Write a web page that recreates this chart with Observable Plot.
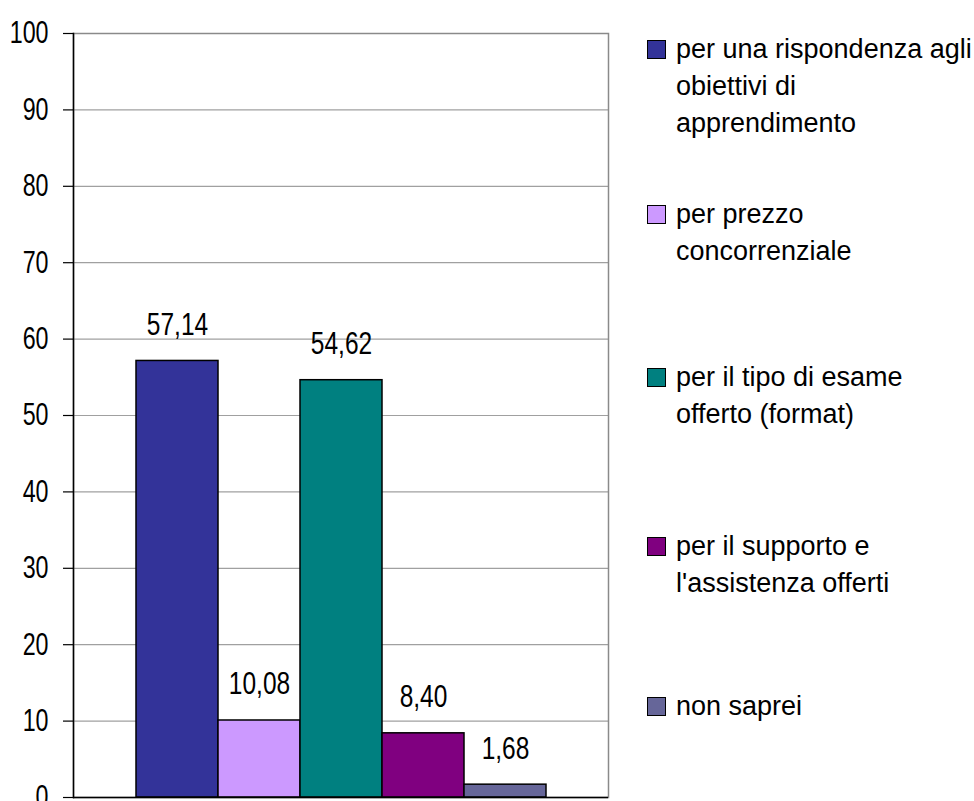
<!DOCTYPE html>
<html>
<head>
<meta charset="utf-8">
<script src="https://cdn.jsdelivr.net/npm/d3@7"></script>
<script src="https://cdn.jsdelivr.net/npm/@observablehq/plot@0.6"></script>
<style>
  html, body { margin: 0; padding: 0; background: #fff; }
  #wrap { position: relative; width: 974px; height: 801px; overflow: hidden; font-family: "Liberation Sans", Arial, sans-serif; }
  #legend { position: absolute; left: 647px; top: 0; width: 327px; }
  .item { position: absolute; left: 0; display: flex; align-items: flex-start; }
  .sw { width: 17px; height: 17px; border: 1.5px solid #000; margin-top: 9px; margin-right: 10px; flex: none; }
  .lb { font-size: 27px; line-height: 37px; white-space: pre-line; color: #000; }
</style>
</head>
<body>
<div id="wrap"></div>
<script>
const series = [
  "per una rispondenza agli\nobiettivi di\napprendimento",
  "per prezzo\nconcorrenziale",
  "per il tipo di esame\nofferto (format)",
  "per il supporto e\nl'assistenza offerti",
  "non saprei"
];
const values = [57.14, 10.08, 54.62, 8.40, 1.68];
const valueLabels = ["57,14", "10,08", "54,62", "8,40", "1,68"];
const colors = ["#333399", "#CC99FF", "#008080", "#800080", "#666699"];
const yTicks = [0, 10, 20, 30, 40, 50, 60, 70, 80, 90, 100];
const legendTops = [31, 196, 359, 528, 688];

const data = series.map((s, i) => ({ s, v: values[i], label: valueLabels[i] }));

const font = '"Liberation Sans", Arial, sans-serif';

const chart = Plot.plot({
  width: 974,
  height: 801,
  marginLeft: 73,
  marginRight: 366,
  marginTop: 33,
  marginBottom: 4,
  style: { fontFamily: font, fontSize: "31px", color: "#000", background: "#fff", overflow: "visible" },
  x: { domain: series, paddingInner: 0, paddingOuter: 0.73, axis: null },
  y: { domain: [0, 100], ticks: yTicks, label: null },
  color: { domain: series, range: colors },
  marks: [
    Plot.ruleY(yTicks.filter(d => d > 0), { stroke: "#a0a0a0", strokeWidth: 1.2 }),
    Plot.frame({ stroke: "#8a8a8a", strokeWidth: 1.5 }),
    Plot.barY(data, { x: "s", y: "v", fill: "s", stroke: "#000", strokeWidth: 1.5 }),
    Plot.text(data, { x: "s", y: "v", text: "label", dy: -36, fontSize: 31, fill: "#000", lineAnchor: "middle", className: "vlab" }),
    Plot.frame({ anchor: "left", stroke: "#000", strokeWidth: 1.5 }),
    Plot.ruleY([0], { stroke: "#000", strokeWidth: 1.5 }),
    Plot.axisY({ ticks: yTicks, tickSize: 10, tickPadding: 15, tickFormat: d => String(d), fontSize: 31, stroke: "#000", strokeWidth: 1.2, label: null })
  ]
});

// condense glyphs horizontally (the reference font is narrow)
d3.select(chart).selectAll("text").each(function () {
  const isVal = this.closest(".vlab") !== null;
  const sx = isVal ? 0.79 : 0.75;
  const xa = this.getAttribute("x");
  const xn = xa == null ? 0 : parseFloat(xa);
  const t = this.getAttribute("transform") || "";
  let extra = "";
  if (isFinite(xn) && xn !== 0 && !/[a-z%]/i.test(xa)) {
    this.removeAttribute("x");
    extra = ` translate(${xn},0)`;
  }
  this.setAttribute("transform", `${t}${extra} scale(${sx},1)`.trim());
});

const wrap = document.getElementById("wrap");
wrap.appendChild(chart);

const legend = document.createElement("div");
legend.id = "legend";
series.forEach((s, i) => {
  const item = document.createElement("div");
  item.className = "item";
  item.style.top = legendTops[i] + "px";
  const sw = document.createElement("div");
  sw.className = "sw";
  sw.style.background = colors[i];
  const lb = document.createElement("div");
  lb.className = "lb";
  lb.textContent = s;
  item.appendChild(sw);
  item.appendChild(lb);
  legend.appendChild(item);
});
wrap.appendChild(legend);
</script>
</body>
</html>
